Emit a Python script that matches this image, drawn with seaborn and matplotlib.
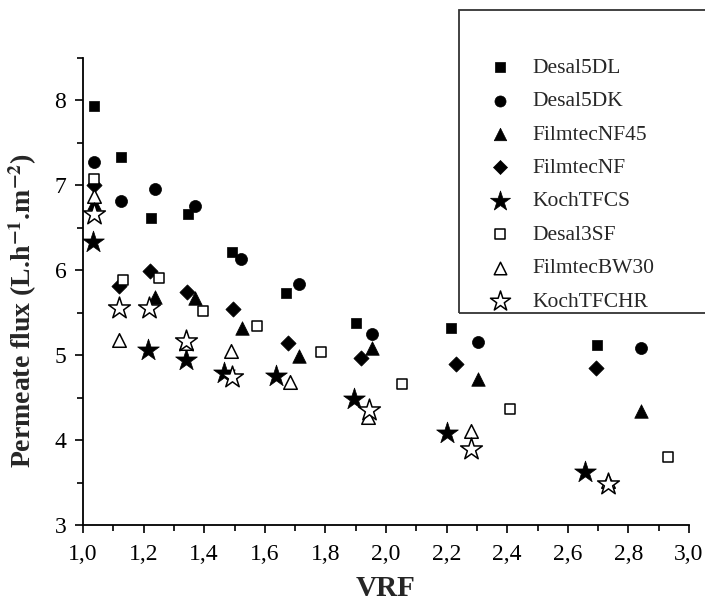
import matplotlib
matplotlib.use("Agg")
import matplotlib.pyplot as plt
import seaborn as sns
import pandas as pd
from matplotlib.patches import Rectangle
from matplotlib.ticker import MultipleLocator, FuncFormatter

# Data (VRF, permeate flux)
desal5dl_x = [1.037, 1.126, 1.226, 1.347, 1.492, 1.669, 1.901, 2.216, 2.696]
desal5dl_y = [7.94, 7.33, 6.61, 6.66, 6.22, 5.73, 5.38, 5.32, 5.12]

desal5dk_x = [1.037, 1.126, 1.237, 1.371, 1.523, 1.714, 1.954, 2.304, 2.840]
desal5dk_y = [7.27, 6.81, 6.96, 6.76, 6.13, 5.84, 5.25, 5.16, 5.08]

nf45_x = [1.037, 1.238, 1.371, 1.524, 1.713, 1.954, 2.304, 2.840]
nf45_y = [6.79, 5.68, 5.67, 5.32, 4.99, 5.08, 4.72, 4.34]

nf_x = [1.037, 1.119, 1.220, 1.342, 1.494, 1.678, 1.916, 2.230, 2.694]
nf_y = [7.01, 5.82, 5.99, 5.74, 5.54, 5.14, 4.97, 4.90, 4.85]

tfcs_x = [1.033, 1.213, 1.340, 1.464, 1.636, 1.894, 2.200, 2.656]
tfcs_y = [6.33, 5.06, 4.94, 4.79, 4.75, 4.48, 4.08, 3.62]

desal3sf_x = [1.037, 1.132, 1.252, 1.396, 1.574, 1.786, 2.053, 2.410, 2.931]
desal3sf_y = [7.08, 5.89, 5.91, 5.52, 5.34, 5.04, 4.66, 4.37, 3.80]

bw30_x = [1.037, 1.119, 1.340, 1.488, 1.682, 1.942, 2.281, 2.734]
bw30_y = [6.87, 5.18, 5.14, 5.05, 4.69, 4.27, 4.11, 3.52]

tfchr_x = [1.037, 1.119, 1.218, 1.340, 1.492, 1.945, 2.281, 2.734]
tfchr_y = [6.66, 5.55, 5.55, 5.17, 4.74, 4.36, 3.89, 3.48]

series = [
    ("Desal5DL", desal5dl_x, desal5dl_y, "s", True, 60),
    ("Desal5DK", desal5dk_x, desal5dk_y, "o", True, 75),
    ("FilmtecNF45", nf45_x, nf45_y, "^", True, 95),
    ("FilmtecNF", nf_x, nf_y, "D", True, 60),
    ("KochTFCS", tfcs_x, tfcs_y, "*", True, 270),
    ("Desal3SF", desal3sf_x, desal3sf_y, "s", False, 50),
    ("FilmtecBW30", bw30_x, bw30_y, "^", False, 95),
    ("KochTFCHR", tfchr_x, tfchr_y, "*", False, 270),
]

sns.set_style("ticks")
plt.rcParams["font.family"] = ["Liberation Serif", "DejaVu Serif"]
plt.rcParams["mathtext.fontset"] = "stix"

fig = plt.figure(figsize=(7.05, 6.10), dpi=100)
ax = fig.add_axes([83 / 705, 85 / 610, 606 / 705, 467 / 610])

handles = []
for name, xs, ys, marker, filled, size in series:
    df = pd.DataFrame({"VRF": xs, "flux": ys})
    if filled:
        kw = dict(color="black", edgecolor="black", linewidth=0.5)
    else:
        kw = dict(facecolor="white", edgecolor="black", linewidth=1.1)
    sns.scatterplot(data=df, x="VRF", y="flux", marker=marker, s=size,
                    ax=ax, zorder=3, **kw)
    h = ax.scatter([], [], marker=marker, s=size * 0.85, **kw)
    handles.append((h, name))

ax.set_xlim(1.0, 3.0)
ax.set_ylim(3.0, 8.5)
ax.xaxis.set_major_locator(MultipleLocator(0.2))
ax.xaxis.set_minor_locator(MultipleLocator(0.1))
ax.yaxis.set_major_locator(MultipleLocator(1))
ax.yaxis.set_minor_locator(MultipleLocator(0.5))
ax.xaxis.set_major_formatter(FuncFormatter(lambda v, p: f"{v:.1f}".replace(".", ",")))
ax.yaxis.set_major_formatter(FuncFormatter(lambda v, p: f"{v:.0f}"))
ax.tick_params(axis="both", which="major", direction="out", length=6, width=1.2,
               labelsize=17, color="black", labelcolor="black")
ax.tick_params(axis="x", which="major", pad=8)
ax.tick_params(axis="y", which="major", pad=6)
ax.tick_params(axis="both", which="minor", direction="out", length=4, width=1.2,
               color="black")
for side in ("top", "right"):
    ax.spines[side].set_visible(False)
for side in ("left", "bottom"):
    ax.spines[side].set_linewidth(1.3)
    ax.spines[side].set_color("black")

ax.set_xlabel("VRF", fontsize=21, fontweight="bold", labelpad=7)
ax.set_ylabel(r"Permeate flux (L.h$^{\mathbf{-1}}$.m$^{\mathbf{-2}}$)",
              fontsize=20, fontweight="bold")
ax.yaxis.set_label_coords(-0.072, 0.46)

# legend box that runs off the right edge
fig.patches.append(Rectangle((459 / 705, (610 - 313) / 610), 300 / 705, 303 / 610,
                             transform=fig.transFigure, fill=False,
                             edgecolor="#333333", linewidth=1.3, zorder=5))
leg = fig.legend([h for h, _ in handles], [n for _, n in handles],
                 loc="upper left", bbox_to_anchor=(472 / 705, (610 - 47) / 610),
                 frameon=False, fontsize=15.5, handletextpad=0.7,
                 labelspacing=0.62, borderpad=0, handlelength=1.6,
                 scatterpoints=1)

fig.savefig("out.png", dpi=100)
